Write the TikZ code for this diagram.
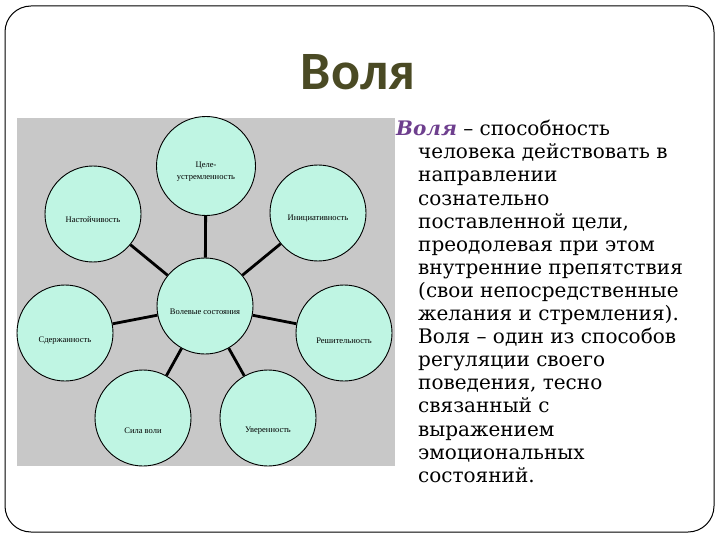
\documentclass[tikz,border=0pt]{standalone}
\usepackage{fontspec}
\setmainfont{DejaVu Serif}
\newfontfamily\titlefont{Carlito}
\newfontfamily\circfont{Liberation Serif}
\definecolor{mint}{HTML}{BFF5E3}
\definecolor{panelgray}{HTML}{C8C8C8}
\definecolor{titleolive}{HTML}{4A4A24}
\definecolor{vpurple}{HTML}{6E3F8E}
\tikzset{
  bub/.style={circle, draw=black, fill=mint, line width=0.9pt, minimum size=96pt, inner sep=0pt},
  lbl/.style={font=\circfont\fontsize{8.5}{12}\selectfont, align=center, inner sep=0pt},
  conn/.style={line width=2.8pt, black},
  title/.style={font=\titlefont\bfseries\fontsize{54}{58}\selectfont, text=titleolive, inner sep=0pt},
  body/.style={font=\fontsize{20}{23.1}\selectfont, align=left, inner sep=0pt}
}
\begin{document}
\begin{tikzpicture}[x=1pt,y=-1pt]
\useasboundingbox (0,0) rectangle (720,540);
\draw[rounded corners=26pt, line width=1pt] (5,6) rectangle (714,532);
\node[title, anchor=base] (ttl) at (358,90) {Воля};
\node[fill=panelgray, minimum width=378pt, minimum height=348pt, inner sep=0pt, anchor=north west] (panel) at (17,118) {};
% circles
\node[bub] (c) at (205,306) {};
\node[bub, minimum size=99pt] (t) at (206,166) {};
\node[bub] (nl) at (93,214) {};
\node[bub] (nr) at (318,213) {};
\node[bub] (ml) at (65,333) {};
\node[bub] (mr) at (344,333) {};
\node[bub] (bl) at (143,418) {};
\node[bub] (br) at (268,418) {};
% connectors
\foreach \n in {t,nl,nr,ml,mr,bl,br} \draw[conn] (c) -- (\n);
% labels
\node[lbl] (lt) at ([yshift=-6pt]t.center) {Целе-\\устремленность};
\node[lbl] (lc) at ([yshift=-6pt]c.center) {Волевые состояния};
\node[lbl] (lnl) at ([yshift=-6pt]nl.center) {Настойчивость};
\node[lbl] (lnr) at ([yshift=-6pt]nr.center) {Инициативность};
\node[lbl] (lml) at ([yshift=-8pt]ml.center) {Сдержанность};
\node[lbl] (lmr) at ([yshift=-8pt]mr.center) {Решительность};
\node[lbl] (lbl) at ([yshift=-13pt]bl.center) {Сила воли};
\node[lbl] (lbr) at ([yshift=-13pt]br.center) {Уверенность};
% text
\node[body, anchor=north west] (txt) at (418,120) {%
\hspace*{-22pt}{\color{vpurple}\bfseries\itshape Воля} – способность\\
человека действовать в\\
направлении\\
сознательно\\
поставленной цели,\\
преодолевая при этом\\
внутренние препятствия\\
(свои непосредственные\\
желания и стремления).\\
Воля – один из способов\\
регуляции своего\\
поведения, тесно\\
связанный с\\
выражением\\
эмоциональных\\
состояний.};
\end{tikzpicture}
\end{document}
